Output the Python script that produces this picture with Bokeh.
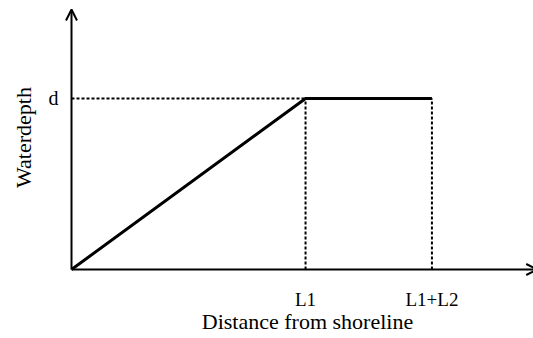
from bokeh.plotting import figure
from bokeh.models import Range1d, Arrow, OpenHead, Label, ColumnDataSource
from bokeh.core.properties import value
from bokeh.embed import file_html
from bokeh.resources import INLINE
import math

# data (schematic units)
L1 = 1.0
L2 = 0.54
d = 1.0
profile_x = [0.0, L1, L1 + L2]
profile_y = [0.0, d, d]
x_tick_labels = ["L1", "L1+L2"]
y_tick_labels = ["d"]
x_title = "Distance from shoreline"
y_title = "Waterdepth"

FONT = "Liberation Serif"

p = figure(width=533, height=338, output_backend="svg", toolbar_location=None,
           x_range=Range1d(-0.3034, 1.974), y_range=Range1d(-0.4035, 1.573),
           min_border=0, min_border_left=0, min_border_right=0,
           min_border_top=0, min_border_bottom=0)
p.axis.visible = False
p.grid.visible = False
p.outline_line_color = None
p.background_fill_color = "white"
p.border_fill_color = "white"

# dotted guide lines
p.line([0, L1], [d, d], line_color="black", line_width=2, line_dash="3 2")
p.line([L1, L1], [0, d], line_color="black", line_width=2, line_dash="3 2")
p.line([L1 + L2, L1 + L2], [0, profile_y[-1]], line_color="black", line_width=2, line_dash="3 2")

# axes with arrows
x_end = 1.99
y_end = 1.52
p.add_layout(Arrow(end=OpenHead(size=11, line_width=2, line_color="black"),
                   x_start=0, y_start=0, x_end=x_end, y_end=0,
                   line_width=2, line_color="black"))
p.add_layout(Arrow(end=OpenHead(size=11, line_width=2, line_color="black"),
                   x_start=0, y_start=0, x_end=0, y_end=y_end,
                   line_width=2, line_color="black"))

# profile
p.line(profile_x, profile_y, line_color="black", line_width=3)

# tick labels
xt = ColumnDataSource(dict(x=[L1, L1 + L2], y=[0, 0], t=x_tick_labels))
p.text("x", "y", text="t", source=xt, text_font=value(FONT), text_font_size="19px",
       text_align="center", text_baseline="middle", y_offset=30, text_color="black")
yt = ColumnDataSource(dict(x=[0], y=[d], t=y_tick_labels))
p.text("x", "y", text="t", source=yt, text_font=value(FONT), text_font_size="20px",
       text_align="right", text_baseline="middle", x_offset=-13, y_offset=0, text_color="black")

# axis titles
p.add_layout(Label(x=307, y=17, x_units="screen", y_units="screen", text=x_title,
                   text_font=FONT, text_font_size="22px", text_align="center",
                   text_baseline="middle", text_color="black"))
p.add_layout(Label(x=23, y=201, x_units="screen", y_units="screen", text=y_title,
                   angle=math.pi / 2, text_font=FONT, text_font_size="22px",
                   text_align="center", text_baseline="middle", text_color="black"))

open("out.html", "w").write(file_html(p, INLINE))
